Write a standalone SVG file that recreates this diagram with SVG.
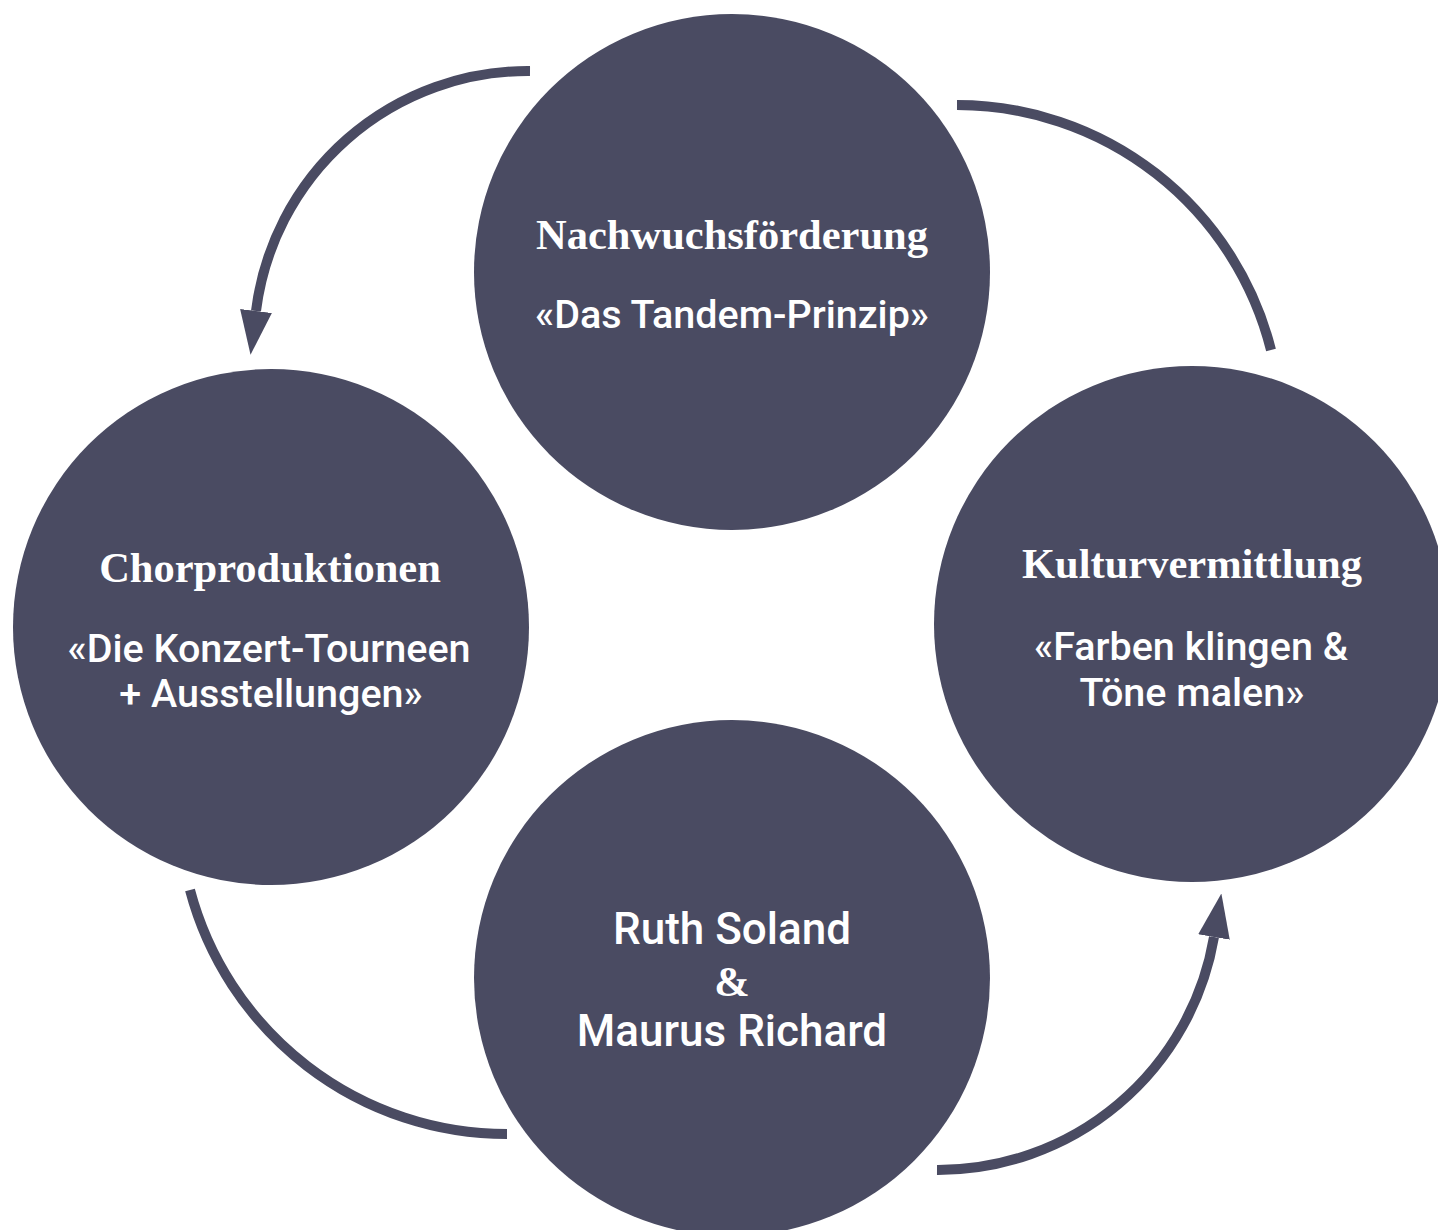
<svg xmlns="http://www.w3.org/2000/svg" width="1438" height="1230" viewBox="0 0 1438 1230">
<style>
.node{fill:#4a4b62}
.conn{fill:none;stroke:#4a4b62;stroke-width:10}
.t{font-family:"Liberation Serif","Times New Roman",serif;font-weight:bold;font-size:42.5px;fill:#ffffff;text-anchor:middle}
.s{font-family:Roboto,"Liberation Sans",Arial,sans-serif;font-weight:500;font-size:39.5px;fill:#ffffff;text-anchor:middle}
.n{font-family:Roboto,"Liberation Sans",Arial,sans-serif;font-weight:500;font-size:44px;fill:#ffffff;text-anchor:middle}
</style>
<defs>
<marker id="ah" markerUnits="userSpaceOnUse" viewBox="0 0 44 32" markerWidth="44" markerHeight="32" refX="0" refY="16" orient="auto">
<path d="M0,0 L44,16 L0,32 z" fill="#4a4b62"/>
</marker>
</defs>
<rect width="1438" height="1230" fill="#ffffff"/>
<g id="connectors">
<path class="conn" d="M 530 71 A 274 274 0 0 0 256 311" marker-end="url(#ah)"/>
<path class="conn" d="M 957 105 A 324 324 0 0 1 1271 350"/>
<path class="conn" d="M 190 890 A 328 328 0 0 0 507 1134"/>
<path class="conn" d="M 937 1170 A 280 280 0 0 0 1214 937" marker-end="url(#ah)"/>
</g>
<g id="node-top">
<circle class="node" cx="732" cy="272" r="258"/>
<text class="t" x="732" y="249">Nachwuchsförderung</text>
<text class="s" x="732" y="328">«Das Tandem-Prinzip»</text>
</g>
<g id="node-left">
<circle class="node" cx="271" cy="627" r="258"/>
<text class="t" x="270" y="582">Chorproduktionen</text>
<text class="s" x="269" y="662">«Die Konzert-Tourneen</text>
<text class="s" x="271" y="707">+ Ausstellungen»</text>
</g>
<g id="node-right">
<circle class="node" cx="1192" cy="624" r="258"/>
<text class="t" x="1192" y="578">Kulturvermittlung</text>
<text class="s" x="1191" y="660">«Farben klingen &amp;</text>
<text class="s" x="1192" y="706">Töne malen»</text>
</g>
<g id="node-bottom">
<circle class="node" cx="732" cy="978" r="258"/>
<text class="n" x="732" y="944">Ruth Soland</text>
<text class="t" x="732" y="996">&amp;</text>
<text class="n" x="732" y="1046">Maurus Richard</text>
</g>
</svg>
